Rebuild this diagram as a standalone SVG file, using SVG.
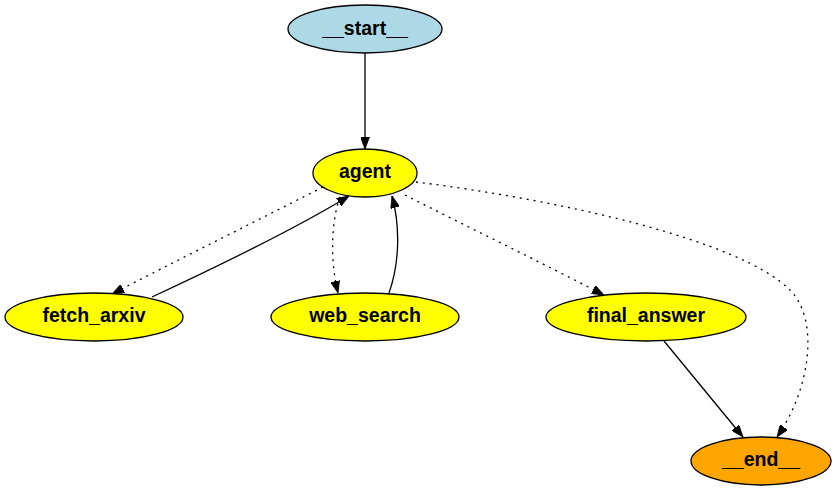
<svg xmlns="http://www.w3.org/2000/svg" width="837" height="491" viewBox="0 0 837 491">
<style>
.node ellipse{stroke:#000;stroke-width:1.3}
.node text{font-family:"Liberation Sans",Arial,sans-serif;font-weight:bold;font-size:19.5px;text-anchor:middle;fill:#000}
.edge{fill:none;stroke:#000;stroke-width:1.3}
.dot{stroke-dasharray:2,5}
</style>
<defs>
<marker id="ah" viewBox="0 0 12 9" refX="12" refY="4.5" markerWidth="12" markerHeight="9" markerUnits="userSpaceOnUse" orient="auto">
<path d="M0,0 L12,4.5 L0,9 z" fill="#000" stroke="#000" stroke-width="0.8"/>
</marker>
</defs>
<rect width="837" height="491" fill="#fff"/>
<g id="edges">
<path class="edge" d="M365,53 L365,149" marker-end="url(#ah)"/>
<path class="edge dot" d="M323,187 C280,209 170,264 112,294" marker-end="url(#ah)"/>
<path class="edge" d="M152,297 C210,270 290,232 349,196" marker-end="url(#ah)"/>
<path class="edge dot" d="M340,197 C330,225 331,265 338,293" marker-end="url(#ah)"/>
<path class="edge" d="M389,293 C400,262 400,225 392,196" marker-end="url(#ah)"/>
<path class="edge dot" d="M405,195 C470,228 540,262 604,295" marker-end="url(#ah)"/>
<path class="edge dot" d="M416,182 C560,200 740,240 790,290 C820,320 810,390 777,437" marker-end="url(#ah)"/>
<path class="edge" d="M664,341 L743,437" marker-end="url(#ah)"/>
</g>
<g id="start" class="node"><ellipse cx="365" cy="29" rx="77" ry="24" fill="#ADD8E6"/><text x="365" y="35">__start__</text></g>
<g id="agent" class="node"><ellipse cx="365" cy="173" rx="52" ry="24" fill="#FFFF00"/><text x="365" y="178">agent</text></g>
<g id="fetch_arxiv" class="node"><ellipse cx="94" cy="317" rx="89" ry="24" fill="#FFFF00"/><text x="94" y="322">fetch_arxiv</text></g>
<g id="web_search" class="node"><ellipse cx="365" cy="317" rx="94" ry="24" fill="#FFFF00"/><text x="365" y="322">web_search</text></g>
<g id="final_answer" class="node"><ellipse cx="646" cy="317" rx="100" ry="24" fill="#FFFF00"/><text x="646" y="322">final_answer</text></g>
<g id="end" class="node"><ellipse cx="761" cy="461" rx="70" ry="24" fill="#FFA500"/><text x="761" y="466">__end__</text></g>
</svg>
